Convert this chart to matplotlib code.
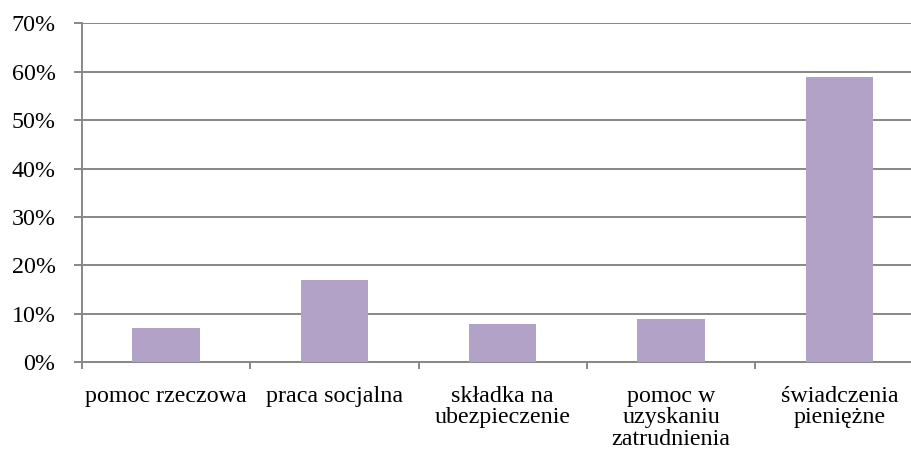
import numpy as np
import matplotlib.pyplot as plt
from matplotlib.ticker import FuncFormatter

kategorie = ['pomoc rzeczowa', 'praca socjalna', 'składka na\nubezpieczenie',
             'pomoc w\nuzyskaniu\nzatrudnienia', 'świadczenia\npieniężne']
udzial = [0.07, 0.17, 0.08, 0.09, 0.59]

plt.rcParams['font.family'] = ['Liberation Serif', 'DejaVu Serif']

fig = plt.figure(figsize=(9.11, 4.54), dpi=100)
# obszar wykresu wychodzi poza prawą krawędź (obraz przycięty)
ax = fig.add_axes([81.7/911, 1-362.3/454, 842/911, 339/454])

x = np.arange(len(kategorie))
ax.bar(x, udzial, width=0.4, color='#b3a2c7', zorder=3)

ax.set_xlim(-0.5, len(kategorie)-0.5)
ax.set_ylim(0, 0.7)
ax.set_yticks(np.arange(0, 0.71, 0.1))
ax.yaxis.set_major_formatter(FuncFormatter(lambda v, p: f'{v*100:.0f}%'))
ax.grid(axis='y', color='#878787', linewidth=1.4, zorder=0)

# etykiety kategorii pośrodku, kreski na granicach
ax.set_xticks(x)
ax.set_xticklabels(kategorie, fontsize=17.3, linespacing=1.03)
ax.set_xticks(np.arange(-0.5, len(kategorie)), minor=True)
ax.tick_params(axis='x', which='major', length=0, pad=17)
ax.tick_params(axis='x', which='minor', length=5, color='#878787', width=1.4)
ax.tick_params(axis='y', length=5.8, color='#878787', width=1.4, labelsize=17.3, pad=13)

for s in ['top', 'right']:
    ax.spines[s].set_visible(False)
for s in ['left', 'bottom']:
    ax.spines[s].set_color('#878787')
    ax.spines[s].set_linewidth(1.4)

fig.savefig('out.png', dpi=100)
